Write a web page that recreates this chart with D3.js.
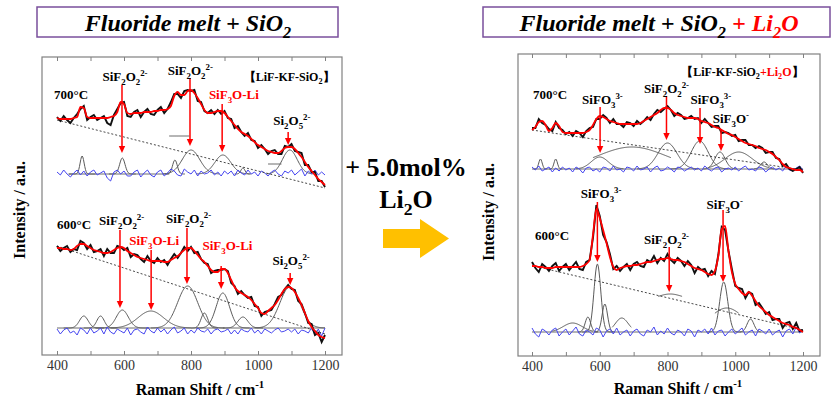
<!DOCTYPE html>
<html>
<head>
    <meta charset="utf-8">
    <title>Raman spectra - Fluoride melt + SiO2 (+ Li2O)</title>
    <script src="https://cdn.jsdelivr.net/npm/d3@7"></script>
    <style>
        body { margin: 0; background: #fff; }
        svg, svg text, svg tspan { font-family: "Liberation Serif", "DejaVu Serif", "Times New Roman", serif; }
        svg text { white-space: pre; }
    </style>
</head>
<body>
<svg id="chart" width="836" height="401"></svg>
<script>
    // Raman shift grid (cm-1) of every sampled spectrum
    var shifts = d3.range(400, 1201, 10);
    var tickValues = [400, 500, 600, 700, 800, 900, 1000, 1100, 1200];
    var tickLabels = [400, 600, 800, 1000, 1200];

    // ---- LiF-KF-SiO2, 700 C ----
    var fitL700 = [237,236,236,236,236,237,238,248,247,238, 237,237,237,237,237,237,238,239,243,253,
        251,242,241,242,242,242,243,243,243,244, 244,245,245,246,249,259,263,260,260,264,
        265,262,257,251,245,242,242,243,244,244, 242,238,234,230,226,223,221,219,216,213,
        210,208,206,204,203,202,202,204,207,208, 208,206,202,198,193,188,184,180,176,173, 170];
    var residL700 = [1,-2,3,-1,-4,0,3,-2,2,-3, 1,3,-2,0,2,-5,-8,1,3,-1, 2,-3,-3,1,3,-4,0,3,-2,-4,
        1,3,-3,0,4,2,-2,-3,4,1, -1,3,-3,2,-1,0,3,-2,1,-3, 2,-1,2,-3,3,0,-2,3,-1,1,
        -3,2,0,-3,1,3,-1,-3,2,0, 3,-2,1,4,-3,2,-1,3,-2,1, -2];
    var baselineL700 = [[400, 235], [1200, 167]];
    // [centre, base, height, sigma, half span]
    var peaksL700 = [[585, 181, 0, 1, 150], [475, 181, 18, 6, 40], [595, 181, 16, 8, 40], [752, 181, 14, 7, 30],
        [800, 181, 24, 26, 85], [895, 181, 19, 24, 80], [955, 181, 6, 6, 25], [1095, 181, 24, 22, 70],
        [765, 219, 0, 1, 30], [1050, 191, 0, 1, 20]];

    // ---- LiF-KF-SiO2, 600 C ----
    var fitL600 = [107,107,106,106,105,106,109,111,111,109, 107,105,104,103,102,102,103,105,107,108,
        107,104,102,100,98,97,96,95,94,94, 94,94,93,93,95,97,99,102,105,107,
        107,104,100,96,93,89,85,83,83,86, 86,82,75,68,64,62,60,58,55,51,
        47,42,41,44,47,50,55,61,66,68, 67,63,57,50,42,34,28,24,20,18, 17];
    var residL600 = [2,-3,1,3,-2,0,-4,3,1,-3, 3,-2,0,3,-3,4,-1,-3,2,0, -2,3,-4,1,2,-1,-3,4,0,-2,
        3,-1,2,-3,1,4,-2,0,3,-3, 1,-2,3,0,-1,2,-3,1,2,-1, 0,2,-3,1,-3,2,0,-1,3,-2,
        1,-3,2,0,-2,1,3,-1,0,2, -1,2,-3,1,0,-2,3,-4,2,-5, 3];
    var baselineL600 = [[400, 109], [1200, 21]];
    var peaksL600 = [[800, 27, 0, 1, 400], [480, 27, 12, 13, 60], [530, 27, 12, 11, 50], [595, 27, 18, 18, 80],
        [680, 27, 17, 38, 120], [790, 27, 42, 30, 110], [840, 27, 15, 10, 40], [895, 27, 35, 20, 80],
        [955, 27, 11, 15, 60], [1095, 27, 41, 30, 105]];

    // ---- LiF-KF-SiO2 + Li2O, 700 C ----
    var fitR700 = [226,229,234,235,231,225,228,233,230,224, 223,223,223,223,223,223,224,226,231,237,
        240,239,237,235,234,233,232,232,232,232, 232,232,233,235,237,239,241,243,246,248,
        248,246,243,241,240,239,238,238,238,237, 235,234,233,231,229,228,226,224,222,221,
        219,217,215,213,212,211,210,208,207,206, 204,202,199,196,192,189,188,187,186,186, 184];
    var residR700 = [2,-1,3,-2,0,2,-3,1,-2,2, -1,1,-3,2,0,-4,1,2,-2,0, -3,2,1,-2,3,-1,0,-3,2,1,
        -2,3,-1,0,2,-3,1,3,-2,-1, 2,0,-3,2,1,-2,0,2,-1,1, -2,3,0,-2,1,2,-3,0,1,-1,
        2,-2,1,3,-1,0,-2,2,1,-3, 0,2,-1,1,-2,3,-1,-2,1,3, -1];
    var baselineR700 = [[400, 226], [1200, 186]];
    var peaksR700 = [[800, 187, 0, 1, 400], [425, 187, 10, 5, 20], [470, 187, 10, 5, 20], [600, 187, 12, 25, 70],
        [695, 187, 22, 100, 115], [800, 187, 26, 28, 90], [895, 187, 28, 25, 85], [955, 187, 17, 15, 50],
        [1010, 187, 17, 40, 90], [1085, 187, 7, 10, 30]];

    // ---- LiF-KF-SiO2 + Li2O, 600 C ----
    var fitR600 = [90,90,89,89,88,88,88,89,89,89, 89,89,89,89,89,90,92,96,121,147,
        138,126,113,99,89,86,88,89,90,90, 91,91,92,93,94,94,95,96,97,97,
        98,97,96,96,95,94,92,90,88,87, 86,84,82,81,85,100,127,130,105,84,
        72,67,63,61,64,60,55,50,47,44, 41,39,37,35,33,32,31,29,28,26, 24];
    var residR600 = [4,-2,-5,3,1,-3,2,4,-4,0, 3,-3,1,5,-2,-4,2,0,-3,4, 2,-5,1,3,-2,4,-3,0,2,-4,
        1,3,-2,-4,2,0,5,-3,1,-2, 4,-1,-3,2,0,-4,3,1,-5,2, 0,3,-2,4,-3,1,2,-4,0,3,
        -2,1,4,-3,0,2,-4,3,1,-2, 3,-3,0,2,-5,1,3,-2,5,-1, 2];
    var baselineR600 = [[400, 90.5], [1200, 26]];
    var peaksR600 = [[800, 24, 0, 1, 400], [520, 24, 9, 28, 60], [565, 24, 15, 8, 30], [593, 24, 68, 10, 45],
        [615, 24, 28, 8, 30], [665, 24, 14, 19, 28], [808, 56, 6, 35, 35], [966, 24, 50, 12, 50],
        [975, 24, 24, 50, 35], [1045, 24, 13, 10, 30]];

    // band assignments: [label, shift, intensity], arrows: [shift, from, to]
    var labelsL700 = [["SiF_2O_2^{2-}", 603, 274], ["SiF_2O_2^{2-}", 798, 280], ["SiF_3O-Li", 928, 256, 1], ["Si_2O_5^{2-}", 1101, 230]];
    var arrowsL700 = [[594, 270, 202], [797, 277, 209], [893, 251, 203], [1090, 223, 210]];
    var labelsL600 = [["SiF_2O_2^{2-}", 593, 130], ["SiF_3O-Li", 690, 110, 1], ["SiF_2O_2^{2-}", 793, 132], ["SiF_3O-Li", 909, 105, 1], ["Si_2O_5^{2-}", 1099, 90]];
    var arrowsL600 = [[588, 125, 47], [681, 105, 45], [788, 127, 71], [890, 89, 66], [1096, 82, 70]];
    var labelsR700 = [["SiFO_3^{3-}", 608, 252], ["SiF_2O_2^{2-}", 797, 263], ["SiFO_3^{3-}", 928, 252], ["SiF_3O^{-}", 987, 233]];
    var arrowsR700 = [[601, 249, 203], [797, 260, 216], [896, 248, 212], [958, 226, 205]];
    var labelsR600 = [["SiFO_3^{3-}", 604, 158], ["SiF_3O^{-}", 969, 147], ["SiF_2O_2^{2-}", 797, 112]];
    var arrowsR600 = [[593, 154, 94], [964, 146, 74], [805, 109, 64]];

    var RED = "#ff0000";
    var FONT = "'Liberation Serif', 'DejaVu Serif', 'Times New Roman', serif";
    var svg = d3.select("#chart").attr("font-family", FONT);

    // split "SiF_2O_2^{2-}" into plain / sub / sup pieces
    function pieces(str) {
        var out = [], re = /_\{([^}]*)\}|_(.)|\^\{([^}]*)\}|\^(.)|([^_^]+)/g, m;
        while ((m = re.exec(str))) {
            if (m[1] != null || m[2] != null) out.push([m[1] != null ? m[1] : m[2], "sub"]);
            else if (m[3] != null || m[4] != null) out.push([m[3] != null ? m[3] : m[4], "sup"]);
            else out.push([m[5], ""]);
        }
        return out;
    }

    function richText(sel, segs, size) {
        var shift = 0;
        sel.attr("font-family", FONT);
        segs.forEach(function(seg) {
            pieces(seg[0]).forEach(function(p) {
                var off = p[1] === "sub" ? size * 0.28 : p[1] === "sup" ? -size * 0.42 : 0;
                sel.append("tspan")
                    .attr("dy", off - shift)
                    .attr("font-size", p[1] ? size * 0.68 : size)
                    .attr("fill", seg[1] || "#000")
                    .text(p[0]);
                shift = off;
            });
        });
        return sel;
    }

    function drawPanel(p) {
        var x = d3.scaleLinear().domain([400, 1200]).range(p.xRange);
        var y = d3.scaleLinear().domain([0, p.yMax]).range([p.frame[1] + p.frame[3], p.frame[1]]);
        var g = svg.append("g");
        var line = d3.line().x(function(d) { return x(d[0]); }).y(function(d) { return y(d[1]); });

        g.append("rect")
            .attr("x", p.frame[0]).attr("y", p.frame[1])
            .attr("width", p.frame[2]).attr("height", p.frame[3])
            .attr("fill", "none").attr("stroke", "#808080").attr("stroke-width", 1.2);

        var bottom = g.append("g")
            .attr("transform", "translate(0," + (p.frame[1] + p.frame[3]) + ")")
            .call(d3.axisBottom(x).tickValues(tickValues).tickSizeInner(-4).tickSizeOuter(0).tickPadding(5)
                .tickFormat(function(d) { return tickLabels.indexOf(d) >= 0 ? d : ""; }));
        var top = g.append("g")
            .attr("transform", "translate(0," + p.frame[1] + ")")
            .call(d3.axisTop(x).tickValues(tickValues).tickSizeInner(-4).tickSizeOuter(0).tickFormat(""));
        [bottom, top].forEach(function(a) {
            a.select(".domain").remove();
            a.selectAll("line").attr("stroke", "#808080");
            a.attr("font-family", FONT).attr("font-size", null);
        });
        bottom.selectAll("text").attr("font-size", 14).attr("fill", "#333");

        p.spectra.forEach(function(s) {
            s.peaks.forEach(function(pk) {
                var lo = Math.max(400, pk[0] - pk[4]), hi = Math.min(1200, pk[0] + pk[4]);
                var pts = d3.range(lo, hi + 0.01, 2).map(function(w) {
                    return [w, pk[1] + pk[2] * Math.exp(-(w - pk[0]) * (w - pk[0]) / (2 * pk[3] * pk[3]))];
                });
                g.append("path").datum(pts).attr("d", line)
                    .attr("fill", "none").attr("stroke", "#5a5a5a").attr("stroke-width", 1);
            });

            g.append("path")
                .datum(shifts.map(function(w, i) { return [w, s.residBase + s.resid[i]]; }))
                .attr("d", line).attr("fill", "none").attr("stroke", "#4646f0").attr("stroke-width", 1);

            g.append("path").datum(s.baseline).attr("d", line)
                .attr("fill", "none").attr("stroke", "#333").attr("stroke-width", 0.9)
                .attr("stroke-dasharray", "2,2");

            // observed spectrum = fit + residual
            g.append("path")
                .datum(shifts.map(function(w, i) { return [w, s.fit[i] + s.resid[i]]; }))
                .attr("d", line).attr("fill", "none").attr("stroke", "#111").attr("stroke-width", 1.9);

            g.append("path")
                .datum(shifts.map(function(w, i) { return [w, s.fit[i]]; }))
                .attr("d", line.curve(d3.curveMonotoneX)).attr("fill", "none")
                .attr("stroke", RED).attr("stroke-width", 1.8);
            line.curve(d3.curveLinear);

            s.arrows.forEach(function(a) {
                var ax = x(a[0]), y0 = y(a[1]), y1 = y(a[2]);
                g.append("line").attr("x1", ax).attr("x2", ax).attr("y1", y0).attr("y2", y1 - 5)
                    .attr("stroke", RED).attr("stroke-width", 1.5);
                g.append("path")
                    .attr("d", "M" + (ax - 3.2) + "," + (y1 - 7) + "L" + (ax + 3.2) + "," + (y1 - 7) + "L" + ax + "," + y1 + "Z")
                    .attr("fill", RED);
            });

            s.labels.forEach(function(l) {
                richText(g.append("text").attr("x", x(l[1])).attr("y", y(l[2]))
                    .attr("text-anchor", "middle").attr("font-weight", "bold"),
                    [[l[0], l[3] ? RED : "#000"]], 13);
            });

            g.append("text").attr("x", x(s.temp[1])).attr("y", y(s.temp[2]))
                .attr("font-family", FONT).attr("font-weight", "bold").attr("font-size", 13).text(s.temp[0]);
        });

        richText(g.append("text").attr("x", x(p.legend[1])).attr("y", y(p.legend[2]))
            .attr("text-anchor", "middle").attr("font-weight", "bold"), p.legend[0], 12);

        g.append("text")
            .attr("transform", "translate(" + p.yTitle[0] + "," + p.yTitle[1] + ") rotate(-90)")
            .attr("text-anchor", "middle").attr("font-family", FONT).attr("font-weight", "bold").attr("font-size", 16)
            .text("Intensity / a.u.");

        richText(g.append("text").attr("x", p.xTitle[0]).attr("y", p.xTitle[1])
            .attr("text-anchor", "middle").attr("font-weight", "bold"), [["Raman Shift / cm^{-1}"]], 16);

        g.append("rect")
            .attr("x", p.title[0]).attr("y", 7).attr("width", p.title[1]).attr("height", 30)
            .attr("fill", "none").attr("stroke", "#7a4f9c").attr("stroke-width", 1.5);
        richText(g.append("text").attr("x", p.title[2]).attr("y", 31)
            .attr("text-anchor", "middle").attr("font-weight", "bold").attr("font-style", "italic"),
            p.title[3], 24);
    }

    drawPanel({
        xRange: [57, 325], yMax: 298, frame: [42, 57, 300, 298],
        yTitle: [25, 210], xTitle: [200, 395],
        title: [37, 301, 188, [["Fluoride melt + SiO_2"]]],
        legend: [[["\u3010LiF-KF-SiO_2\u3011"]], 1093, 274],
        spectra: [
            {fit: fitL700, resid: residL700, residBase: 182, baseline: baselineL700, peaks: peaksL700,
                arrows: arrowsL700, labels: labelsL700, temp: ["700\u00b0C", 391, 256]},
            {fit: fitL600, resid: residL600, residBase: 24, baseline: baselineL600, peaks: peaksL600,
                arrows: arrowsL600, labels: labelsL600, temp: ["600\u00b0C", 400, 126]}
        ]
    });

    drawPanel({
        xRange: [532, 803], yMax: 302, frame: [518, 54, 302, 302],
        yTitle: [494, 212], xTitle: [678, 394],
        title: [483, 347, 659, [["Fluoride melt + SiO_2 "], ["+ Li_2O", RED]]],
        legend: [[["\u3010LiF-KF-SiO_2"], ["+Li_2O", RED], ["\u3011"]], 1021, 280],
        spectra: [
            {fit: fitR700, resid: residR700, residBase: 187, baseline: baselineR700, peaks: peaksR700,
                arrows: arrowsR700, labels: labelsR700, temp: ["700\u00b0C", 403, 257]},
            {fit: fitR600, resid: residR600, residBase: 24, baseline: baselineR600, peaks: peaksR600,
                arrows: arrowsR600, labels: labelsR600, temp: ["600\u00b0C", 409, 116]}
        ]
    });

    // centre: Li2O addition and arrow
    richText(svg.append("text").attr("x", 406).attr("y", 176)
        .attr("text-anchor", "middle").attr("font-weight", "bold"), [["+ 5.0mol%"]], 26);
    richText(svg.append("text").attr("x", 406).attr("y", 208)
        .attr("text-anchor", "middle").attr("font-weight", "bold"), [["Li_2O"]], 26);
    svg.append("polygon")
        .attr("points", [[383, 229], [420, 229], [420, 219], [449, 238.5], [420, 258], [420, 248], [383, 248]].join(" "))
        .attr("fill", "#ffc000");
</script>
</body>
</html>
